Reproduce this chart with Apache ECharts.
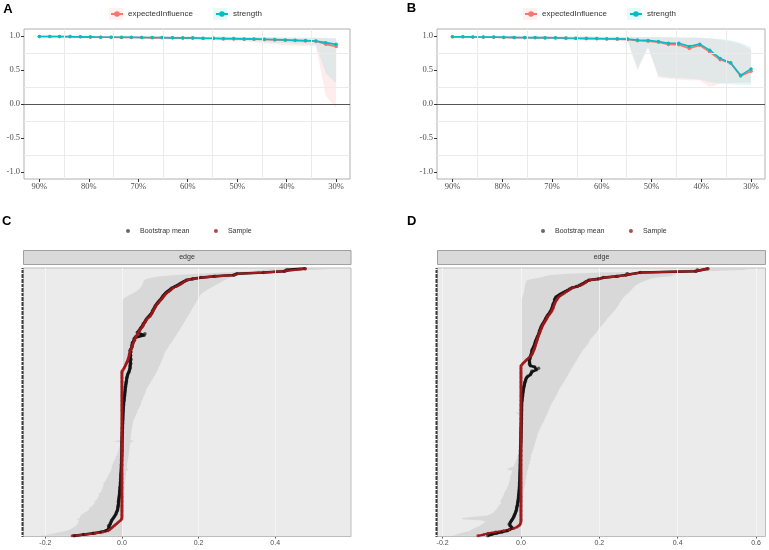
<!DOCTYPE html>
<html>
<head>
<meta charset="utf-8">
<script src="https://cdn.jsdelivr.net/npm/echarts@6/dist/echarts.min.js"></script>
<style>
  html, body { margin: 0; padding: 0; background: #fff; }
  #chart { width: 769px; height: 550px; }
</style>
</head>
<body>
<div id="chart"></div>
<script>
// ---------- A / B : centrality stability (case dropping) ----------
const casesKept = [90, 87.9, 85.9, 83.8, 81.7, 79.7, 77.6, 75.5, 73.4, 71.4, 69.3, 67.2, 65.2, 63.1, 61.0,
  59.0, 56.9, 54.8, 52.8, 50.7, 48.6, 46.6, 44.5, 42.4, 40.3, 38.3, 36.2, 34.1, 32.1, 30.0];
const pctLabels = [30, 40, 50, 60, 70, 80, 90];
const pctGrid = [35, 45, 55, 65, 75, 85];
const corLabels = [-1, -0.5, 0, 0.5, 1];
const corGrid = [-0.75, -0.25, 0.25, 0.75];

const aEI = [0.99, 0.99, 0.99, 0.985, 0.985, 0.98, 0.98, 0.98, 0.975, 0.975, 0.975, 0.97, 0.97, 0.97, 0.965,
  0.965, 0.96, 0.96, 0.955, 0.955, 0.95, 0.95, 0.945, 0.94, 0.935, 0.93, 0.925, 0.92, 0.875, 0.845];
const aEILow = [0.975, 0.975, 0.975, 0.97, 0.97, 0.965, 0.965, 0.965, 0.96, 0.96, 0.955, 0.955, 0.95, 0.95, 0.945,
  0.945, 0.94, 0.935, 0.93, 0.925, 0.915, 0.905, 0.89, 0.875, 0.86, 0.855, 0.85, 0.85, 0.12, -0.06];
const aEIHigh = [0.998, 0.998, 0.997, 0.997, 0.996, 0.996, 0.995, 0.995, 0.994, 0.994, 0.993, 0.993, 0.992, 0.991, 0.99,
  0.989, 0.988, 0.987, 0.986, 0.985, 0.983, 0.981, 0.979, 0.977, 0.975, 0.973, 0.971, 0.97, 0.965, 0.96];
const aStr = [0.99, 0.99, 0.99, 0.99, 0.985, 0.985, 0.98, 0.98, 0.98, 0.98, 0.975, 0.975, 0.975, 0.97, 0.97,
  0.97, 0.965, 0.965, 0.96, 0.96, 0.955, 0.955, 0.95, 0.945, 0.94, 0.935, 0.93, 0.925, 0.90, 0.875];
const aStrLow = [0.978, 0.978, 0.977, 0.975, 0.973, 0.971, 0.969, 0.967, 0.965, 0.963, 0.961, 0.959, 0.957, 0.955, 0.952,
  0.949, 0.946, 0.943, 0.94, 0.935, 0.928, 0.92, 0.91, 0.9, 0.89, 0.88, 0.875, 0.865, 0.45, 0.30];
const aStrHigh = [0.999, 0.999, 0.998, 0.998, 0.997, 0.997, 0.996, 0.996, 0.995, 0.995, 0.994, 0.994, 0.993, 0.992, 0.991,
  0.99, 0.989, 0.988, 0.987, 0.986, 0.984, 0.982, 0.98, 0.978, 0.976, 0.974, 0.972, 0.971, 0.968, 0.965];

const bEI = [0.985, 0.985, 0.982, 0.98, 0.978, 0.976, 0.974, 0.972, 0.97, 0.969, 0.967, 0.963, 0.961, 0.958, 0.956,
  0.953, 0.95, 0.945, 0.928, 0.922, 0.905, 0.872, 0.868, 0.815, 0.862, 0.76, 0.648, 0.598, 0.41, 0.48];
const bEILow = [0.975, 0.975, 0.972, 0.97, 0.967, 0.964, 0.961, 0.958, 0.955, 0.952, 0.949, 0.945, 0.942, 0.938, 0.935,
  0.93, 0.925, 0.92, 0.49, 0.82, 0.39, 0.37, 0.355, 0.35, 0.345, 0.25, 0.30, 0.31, 0.31, 0.31];
const bEIHigh = [0.996, 0.996, 0.995, 0.995, 0.994, 0.994, 0.993, 0.993, 0.992, 0.992, 0.991, 0.99, 0.99, 0.989, 0.988,
  0.987, 0.986, 0.985, 0.983, 0.982, 0.98, 0.978, 0.976, 0.973, 0.97, 0.96, 0.945, 0.92, 0.88, 0.80];
const bStr = [0.986, 0.986, 0.984, 0.983, 0.981, 0.979, 0.977, 0.976, 0.974, 0.973, 0.971, 0.967, 0.965, 0.963, 0.961,
  0.958, 0.956, 0.952, 0.938, 0.933, 0.915, 0.89, 0.89, 0.845, 0.878, 0.79, 0.668, 0.605, 0.42, 0.515];
const bStrLow = [0.978, 0.977, 0.975, 0.973, 0.971, 0.968, 0.966, 0.963, 0.96, 0.958, 0.955, 0.951, 0.948, 0.945, 0.942,
  0.938, 0.934, 0.93, 0.52, 0.84, 0.41, 0.39, 0.38, 0.37, 0.36, 0.32, 0.30, 0.29, 0.28, 0.28];
const bStrHigh = [0.997, 0.997, 0.996, 0.996, 0.995, 0.995, 0.994, 0.994, 0.993, 0.993, 0.992, 0.991, 0.991, 0.99, 0.989,
  0.988, 0.987, 0.986, 0.984, 0.983, 0.981, 0.979, 0.977, 0.975, 0.972, 0.965, 0.955, 0.935, 0.90, 0.835];

// ---------- C / D : edge weight accuracy (edges sorted, bottom -> top) ----------
const cSample = [
  -0.130, -0.095, -0.070, -0.050, -0.036, -0.032, -0.028, -0.024, -0.020, -0.016,
  -0.012, -0.008, -0.004, -0.001, 0, 0, 0, 0, 0, 0,
  0, 0, 0, 0, 0, 0, 0, 0, 0, 0,
  0, 0, 0, 0, 0, 0, 0, 0, 0, 0,
  0, 0, 0, 0, 0, 0, 0, 0, 0, 0,
  0, 0, 0, 0, 0, 0, 0, 0, 0, 0,
  0, 0, 0, 0, 0, 0, 0, 0, 0, 0,
  0, 0, 0, 0, 0, 0, 0, 0, 0, 0,
  0, 0, 0, 0, 0, 0, 0, 0, 0, 0,
  0, 0, 0, 0, 0, 0, 0, 0, 0, 0,
  0, 0, 0, 0, 0, 0, 0, 0, 0, 0,
  0, 0, 0, 0, 0, 0, 0, 0, 0, 0,
  0, 0, 0, 0, 0, 0, 0, 0, 0, 0,
  0.003, 0.005, 0.007, 0.009, 0.010, 0.012, 0.013, 0.015, 0.016, 0.017,
  0.018, 0.019, 0.020, 0.021, 0.021, 0.022, 0.023, 0.025, 0.026, 0.027,
  0.028, 0.030, 0.031, 0.033, 0.034, 0.036, 0.037, 0.039, 0.041, 0.043,
  0.045, 0.047, 0.049, 0.052, 0.054, 0.056, 0.058, 0.060, 0.062, 0.064,
  0.066, 0.070, 0.074, 0.076, 0.078, 0.080, 0.082, 0.083, 0.085, 0.087,
  0.089, 0.091, 0.094, 0.097, 0.100, 0.103, 0.106, 0.108, 0.111, 0.113,
  0.117, 0.122, 0.126, 0.130, 0.134, 0.142, 0.148, 0.154, 0.159, 0.164,
  0.170, 0.187, 0.209, 0.244, 0.294, 0.302, 0.372, 0.426, 0.431, 0.479
];
const cMean = [
  -0.125, -0.100, -0.075, -0.055, -0.042, -0.036, -0.032, -0.034, -0.035, -0.031,
  -0.030, -0.028, -0.027, -0.025, -0.022, -0.020, -0.018, -0.016, -0.015, -0.013,
  -0.012, -0.011, -0.011, -0.010, -0.010, -0.009, -0.009, -0.009, -0.008, -0.008,
  -0.007, -0.007, -0.007, -0.006, -0.006, -0.006, -0.005, -0.005, -0.005, -0.0045,
  -0.004, -0.004, -0.004, -0.0035, -0.0035, -0.003, -0.003, -0.003, -0.0025, -0.0025,
  -0.002, -0.002, -0.002, -0.0018, -0.0016, -0.0015, -0.0014, -0.0012, -0.001, -0.001,
  -0.0008, -0.0007, -0.0006, -0.0005, -0.0004, -0.0003, -0.0002, -0.0001, 0, 0,
  0, 0, 0, 0, 0.0002, 0.0003, 0.0004, 0.0005, 0.0006, 0.0007,
  0.0008, 0.0009, 0.001, 0.0011, 0.0012, 0.0013, 0.0014, 0.0016, 0.0018, 0.002,
  0.0021, 0.0022, 0.0023, 0.0024, 0.0025, 0.0026, 0.0028, 0.003, 0.0032, 0.0034,
  0.0035, 0.0038, 0.004, 0.0043, 0.0046, 0.005, 0.0054, 0.0058, 0.006, 0.0065,
  0.007, 0.0073, 0.0076, 0.008, 0.0083, 0.0086, 0.009, 0.0095, 0.010, 0.0105,
  0.011, 0.0115, 0.012, 0.0125, 0.013, 0.014, 0.015, 0.016, 0.018, 0.019,
  0.020, 0.021, 0.022, 0.021, 0.022, 0.023, 0.020, 0.022, 0.024, 0.022,
  0.021, 0.023, 0.020, 0.022, 0.024, 0.021, 0.023, 0.025, 0.027, 0.026,
  0.028, 0.027, 0.030, 0.032, 0.031, 0.034, 0.036, 0.058, 0.060, 0.040,
  0.043, 0.046, 0.048, 0.050, 0.053, 0.055, 0.056, 0.059, 0.061, 0.063,
  0.065, 0.068, 0.072, 0.074, 0.077, 0.079, 0.080, 0.082, 0.084, 0.086,
  0.087, 0.090, 0.092, 0.095, 0.098, 0.101, 0.104, 0.106, 0.108, 0.111,
  0.114, 0.118, 0.123, 0.127, 0.131, 0.138, 0.145, 0.150, 0.156, 0.162,
  0.168, 0.185, 0.207, 0.242, 0.292, 0.300, 0.370, 0.424, 0.430, 0.478
];
const cLow = [
  -0.215, -0.190, -0.175, -0.160, -0.145, -0.135, -0.130, -0.125, -0.120, -0.117,
  -0.115, -0.114, -0.112, -0.118, -0.110, -0.109, -0.108, -0.104, -0.098, -0.092,
  -0.088, -0.085, -0.086, -0.079, -0.076, -0.073, -0.071, -0.073, -0.066, -0.064,
  -0.062, -0.061, -0.059, -0.062, -0.056, -0.054, -0.052, -0.051, -0.050, -0.049,
  -0.047, -0.050, -0.045, -0.043, -0.041, -0.039, -0.037, -0.035, -0.036, -0.032,
  -0.030, -0.029, -0.028, -0.027, -0.026, -0.028, -0.024, -0.023, -0.022, -0.020,
  -0.018, -0.016, -0.017, -0.013, -0.012, -0.011, -0.010, -0.009, -0.008, -0.007,
  -0.006, -0.005, -0.004, -0.003, -0.022, -0.002, -0.001, 0, 0, 0,
  0, 0, 0, 0, 0, 0, 0, 0, 0, 0,
  0, 0, 0, 0, 0, 0, 0, 0, 0, 0,
  0, 0, 0, 0, 0, 0, 0, 0, 0, 0,
  0, 0, 0, 0, 0, 0, 0, 0, 0, 0,
  0, 0, 0, 0, 0, 0, 0, 0, 0, 0,
  0, 0, 0, 0, 0, 0, 0, 0, 0, 0,
  0, 0, 0, 0, 0, 0, 0, 0, 0, 0,
  0, 0, 0, 0, 0, 0, 0, 0, 0, 0,
  0, 0, 0, 0, 0, 0, 0, 0, 0, 0,
  0, 0, 0, 0, 0, 0, 0, 0, 0, 0,
  0, 0, 0, 0, 0, 0.003, 0.006, 0.012, 0.018, 0.024,
  0.030, 0.035, 0.040, 0.045, 0.048, 0.050, 0.052, 0.054, 0.055, 0.056,
  0.058, 0.065, 0.080, 0.100, 0.140, 0.200, 0.260, 0.330, 0.360, 0.400
];
const cHigh = [
  0.000, 0.000, 0.000, 0.001, 0.001, 0.001, 0.002, 0.002, 0.002, 0.002,
  0.002, 0.003, 0.003, 0.003, 0.003, 0.004, 0.003, 0.003, 0.004, 0.004,
  0.004, 0.004, 0.005, 0.004, 0.004, 0.005, 0.005, 0.006, 0.005, 0.005,
  0.005, 0.006, 0.006, 0.007, 0.006, 0.006, 0.007, 0.007, 0.008, 0.007,
  0.007, 0.008, 0.009, 0.008, 0.009, 0.010, 0.009, 0.010, 0.011, 0.010,
  0.011, 0.012, 0.018, 0.012, 0.013, 0.013, 0.014, 0.013, 0.015, 0.015,
  0.016, 0.016, 0.017, 0.018, 0.017, 0.018, 0.019, 0.019, 0.020, 0.021,
  0.020, 0.021, 0.022, 0.022, 0.032, 0.022, 0.023, 0.023, 0.024, 0.023,
  0.024, 0.025, 0.025, 0.026, 0.025, 0.027, 0.027, 0.028, 0.030, 0.028,
  0.030, 0.031, 0.033, 0.034, 0.036, 0.037, 0.039, 0.041, 0.040, 0.043,
  0.045, 0.046, 0.048, 0.049, 0.051, 0.050, 0.053, 0.055, 0.054, 0.057,
  0.058, 0.060, 0.061, 0.063, 0.062, 0.065, 0.066, 0.069, 0.070, 0.073,
  0.075, 0.076, 0.079, 0.081, 0.082, 0.085, 0.087, 0.088, 0.090, 0.092,
  0.093, 0.096, 0.095, 0.098, 0.100, 0.101, 0.103, 0.104, 0.106, 0.107,
  0.108, 0.110, 0.109, 0.112, 0.113, 0.115, 0.118, 0.119, 0.122, 0.123,
  0.126, 0.129, 0.131, 0.134, 0.135, 0.138, 0.139, 0.142, 0.144, 0.146,
  0.148, 0.151, 0.152, 0.155, 0.156, 0.158, 0.161, 0.162, 0.165, 0.166,
  0.168, 0.171, 0.172, 0.175, 0.176, 0.178, 0.181, 0.182, 0.184, 0.186,
  0.188, 0.190, 0.192, 0.194, 0.196, 0.198, 0.200, 0.202, 0.204, 0.206,
  0.210, 0.215, 0.220, 0.226, 0.232, 0.238, 0.244, 0.250, 0.256, 0.262,
  0.268, 0.275, 0.285, 0.295, 0.305, 0.315, 0.325, 0.335, 0.500, 0.560
];

const dSample = [
  -0.110, -0.095, -0.084, -0.065, -0.045, -0.030, -0.018, -0.010, -0.005, -0.002,
  -0.001, 0, 0, 0, 0, 0, 0, 0, 0, 0,
  0, 0, 0, 0, 0, 0, 0, 0, 0, 0,
  0, 0, 0, 0, 0, 0, 0, 0, 0, 0,
  0, 0, 0, 0, 0, 0, 0, 0, 0, 0,
  0, 0, 0, 0, 0, 0, 0, 0, 0, 0,
  0, 0, 0, 0, 0, 0, 0, 0, 0, 0,
  0, 0, 0, 0, 0, 0, 0, 0, 0, 0,
  0, 0, 0, 0, 0, 0, 0, 0, 0, 0,
  0, 0, 0, 0, 0, 0, 0, 0, 0, 0,
  0, 0, 0, 0, 0, 0, 0, 0, 0, 0,
  0, 0, 0, 0, 0, 0, 0, 0, 0, 0,
  0, 0, 0, 0, 0, 0, 0, 0, 0, 0,
  0, 0, 0, 0, 0.003, 0.005, 0.009, 0.012, 0.015, 0.019,
  0.023, 0.026, 0.028, 0.030, 0.031, 0.032, 0.034, 0.035, 0.036, 0.037,
  0.038, 0.039, 0.040, 0.041, 0.042, 0.043, 0.044, 0.045, 0.047, 0.048,
  0.049, 0.050, 0.052, 0.053, 0.054, 0.056, 0.058, 0.060, 0.062, 0.064,
  0.066, 0.067, 0.069, 0.072, 0.074, 0.077, 0.079, 0.080, 0.082, 0.083,
  0.084, 0.085, 0.086, 0.088, 0.090, 0.092, 0.094, 0.097, 0.101, 0.106,
  0.111, 0.116, 0.121, 0.126, 0.132, 0.145, 0.152, 0.158, 0.164, 0.167,
  0.175, 0.200, 0.213, 0.247, 0.269, 0.272, 0.307, 0.447, 0.451, 0.477
];
const dMean = [
  -0.085, -0.075, -0.062, -0.048, -0.035, -0.028, -0.022, -0.024, -0.028, -0.030,
  -0.028, -0.026, -0.024, -0.022, -0.020, -0.018, -0.017, -0.016, -0.014, -0.013,
  -0.012, -0.011, -0.011, -0.010, -0.009, -0.009, -0.008, -0.008, -0.007, -0.007,
  -0.006, -0.006, -0.006, -0.005, -0.005, -0.005, -0.0045, -0.004, -0.004, -0.004,
  -0.0037, -0.0035, -0.0034, -0.0032, -0.003, -0.003, -0.0028, -0.0027, -0.0026, -0.0025,
  -0.0024, -0.0023, -0.0022, -0.0021, -0.002, -0.002, -0.0019, -0.0018, -0.0018, -0.0017,
  -0.0017, -0.0016, -0.0016, -0.0015, -0.0014, -0.0013, -0.0012, -0.0011, -0.001, -0.0009,
  -0.0008, -0.0007, -0.0006, -0.0005, -0.0004, -0.0003, -0.0002, -0.0001, 0, 0,
  0, 0.0001, 0.0002, 0.0003, 0.0004, 0.0005, 0.0006, 0.0007, 0.0008, 0.0009,
  0.001, 0.001, 0.0011, 0.0012, 0.0013, 0.0013, 0.0014, 0.0015, 0.0015, 0.0016,
  0.0016, 0.0017, 0.0017, 0.0018, 0.002, 0.0023, 0.0026, 0.003, 0.0034, 0.0038,
  0.0042, 0.0046, 0.005, 0.0055, 0.006, 0.0065, 0.007, 0.0078, 0.0085, 0.0093,
  0.010, 0.011, 0.012, 0.013, 0.015, 0.018, 0.024, 0.026, 0.027, 0.028,
  0.040, 0.045, 0.035, 0.024, 0.022, 0.022, 0.022, 0.021, 0.022, 0.023,
  0.024, 0.025, 0.026, 0.027, 0.028, 0.028, 0.029, 0.031, 0.033, 0.034,
  0.035, 0.036, 0.037, 0.038, 0.040, 0.041, 0.042, 0.044, 0.045, 0.047,
  0.047, 0.048, 0.050, 0.051, 0.052, 0.054, 0.056, 0.058, 0.060, 0.062,
  0.063, 0.065, 0.067, 0.069, 0.072, 0.074, 0.076, 0.078, 0.079, 0.080,
  0.081, 0.082, 0.083, 0.085, 0.087, 0.086, 0.088, 0.090, 0.095, 0.100,
  0.106, 0.112, 0.118, 0.124, 0.130, 0.142, 0.150, 0.156, 0.162, 0.166,
  0.173, 0.198, 0.211, 0.245, 0.268, 0.271, 0.305, 0.446, 0.450, 0.477
];
const dLow = [
  -0.175, -0.165, -0.155, -0.142, -0.130, -0.125, -0.120, -0.112, -0.105, -0.100,
  -0.095, -0.090, -0.100, -0.148, -0.150, -0.120, -0.085, -0.078, -0.071, -0.068,
  -0.065, -0.062, -0.060, -0.058, -0.056, -0.052, -0.050, -0.054, -0.051, -0.049,
  -0.047, -0.046, -0.044, -0.043, -0.042, -0.040, -0.038, -0.036, -0.035, -0.033,
  -0.032, -0.031, -0.030, -0.029, -0.028, -0.027, -0.029, -0.026, -0.025, -0.024,
  -0.023, -0.022, -0.036, -0.030, -0.019, -0.018, -0.016, -0.015, -0.014, -0.012,
  -0.011, -0.010, -0.009, -0.008, -0.007, -0.006, -0.005, -0.004, -0.004, -0.003,
  -0.003, -0.002, -0.002, -0.001, -0.001, 0, 0, 0, 0, 0,
  0, 0, 0, 0, 0, 0, 0, 0, 0, 0,
  0, 0, 0, 0, 0, -0.006, -0.014, 0, 0, 0,
  0, 0, 0, 0, 0, 0, 0, 0, 0, 0,
  0, 0, 0, 0, 0, 0, 0, 0, 0, 0,
  0, 0, 0, 0, 0, 0, 0, 0, 0, 0,
  0, 0, 0, 0, 0, 0, 0, 0, 0, 0,
  0, 0, 0, 0, 0, 0, 0, 0, 0, 0,
  0, 0, 0, 0, 0, 0, 0, 0, 0, 0,
  0, 0, 0, 0, 0, 0, 0, 0, 0, 0,
  0, 0, 0, 0, 0, 0, 0, 0, 0, 0,
  0, 0, 0, 0, 0, 0, 0.003, 0.004, 0.005, 0.006,
  0.007, 0.008, 0.008, 0.009, 0.009, 0.010, 0.010, 0.011, 0.012, 0.013,
  0.015, 0.030, 0.050, 0.060, 0.075, 0.120, 0.200, 0.400, 0.420, 0.440
];
const dHigh = [
  0, 0, 0, 0, 0, 0, 0, 0, 0, 0,
  0, 0, 0, 0, 0, 0.001, 0.001, 0.001, 0.002, 0.002,
  0.002, 0.002, 0.003, 0.003, 0.003, 0.004, 0.004, 0.004, 0.005, 0.005,
  0.005, 0.006, 0.006, 0.006, 0.007, 0.007, 0.007, 0.008, 0.009, 0.010,
  0.010, 0.011, 0.012, 0.011, 0.012, 0.014, 0.013, 0.014, 0.015, 0.015,
  0.016, 0.016, 0.018, 0.018, 0.020, 0.019, 0.021, 0.023, 0.022, 0.024,
  0.025, 0.024, 0.027, 0.024, 0.028, 0.028, 0.030, 0.030, 0.032, 0.032,
  0.034, 0.034, 0.036, 0.036, 0.038, 0.038, 0.040, 0.040, 0.042, 0.041,
  0.043, 0.045, 0.045, 0.048, 0.048, 0.051, 0.051, 0.054, 0.055, 0.058,
  0.058, 0.061, 0.061, 0.064, 0.064, 0.067, 0.067, 0.070, 0.070, 0.073,
  0.073, 0.075, 0.075, 0.078, 0.079, 0.082, 0.083, 0.086, 0.086, 0.089,
  0.090, 0.092, 0.093, 0.096, 0.096, 0.099, 0.100, 0.103, 0.104, 0.107,
  0.108, 0.111, 0.112, 0.115, 0.116, 0.119, 0.120, 0.122, 0.123, 0.126,
  0.127, 0.130, 0.131, 0.134, 0.135, 0.138, 0.139, 0.142, 0.143, 0.146,
  0.147, 0.150, 0.151, 0.154, 0.155, 0.158, 0.159, 0.163, 0.165, 0.169,
  0.170, 0.173, 0.174, 0.176, 0.177, 0.181, 0.183, 0.187, 0.189, 0.193,
  0.194, 0.197, 0.198, 0.202, 0.204, 0.208, 0.210, 0.214, 0.216, 0.219,
  0.220, 0.224, 0.226, 0.230, 0.232, 0.236, 0.238, 0.242, 0.243, 0.246,
  0.247, 0.250, 0.251, 0.254, 0.255, 0.259, 0.260, 0.264, 0.266, 0.271,
  0.274, 0.278, 0.280, 0.284, 0.286, 0.290, 0.293, 0.299, 0.305, 0.313,
  0.320, 0.330, 0.345, 0.383, 0.390, 0.396, 0.400, 0.480, 0.566, 0.586
];
const cWeightLabels = [-0.2, 0, 0.2, 0.4];
const dWeightLabels = [-0.2, 0, 0.2, 0.4, 0.6];

const EI_COLOR = '#F8766D';
const STR_COLOR = '#00BFC4';
const SAMPLE_COLOR = '#A3191C';
const edgeIds = cSample.map((_, i) => 'edge' + (i + 1)); // blank tick labels, one per edge

const chart = echarts.init(document.getElementById('chart'));

// grid lines / reference lines drawn as mark lines of an empty series
function refLines(idx, xs, ys, color, width, z) {
  return {
    type: 'line', xAxisIndex: idx, yAxisIndex: idx, data: [], silent: true, z: z,
    markLine: {
      silent: true, symbol: 'none', animation: false, label: { show: false },
      lineStyle: { color: color, width: width, type: 'solid' },
      emphasis: { disabled: true },
      data: xs.map(v => ({ xAxis: v })).concat(ys.map(v => ({ yAxis: v })))
    }
  };
}

// ribbon polygon between low and high (flipped = horizontal bands on a category y axis)
function ribbon(idx, pos, low, high, fill, flipped) {
  return {
    type: 'custom', xAxisIndex: idx, yAxisIndex: idx, silent: true, z: 2,
    data: [[0, 0]],
    renderItem: (params, api) => {
      const pts = [];
      for (let i = 0; i < pos.length; i++) {
        pts.push(api.coord(flipped ? [low[i], pos[i]] : [pos[i], low[i]]));
      }
      for (let i = pos.length - 1; i >= 0; i--) {
        pts.push(api.coord(flipped ? [high[i], pos[i]] : [pos[i], high[i]]));
      }
      return { type: 'polygon', shape: { points: pts }, style: { fill: fill } };
    }
  };
}

function stabilityLine(idx, name, vals, color) {
  return {
    type: 'line', name: name, xAxisIndex: idx, yAxisIndex: idx, z: 4,
    data: casesKept.map((p, i) => [p, vals[i]]),
    symbol: 'circle', symbolSize: 3.5, showAllSymbol: true,
    lineStyle: { color: color, width: 1.6 }, itemStyle: { color: color }
  };
}

function stabilitySeries(idx, ei, eiLow, eiHigh, str, strLow, strHigh) {
  return [
    refLines(idx, pctGrid, corGrid, '#EBEBEB', 1, 1),
    ribbon(idx, casesKept, eiLow, eiHigh, 'rgba(248,118,109,0.13)', false),
    ribbon(idx, casesKept, strLow, strHigh, 'rgba(0,191,196,0.11)', false),
    refLines(idx, [], [0], '#555555', 1, 3),
    stabilityLine(idx, 'expectedInfluence', ei, EI_COLOR),
    stabilityLine(idx, 'strength', str, STR_COLOR)
  ];
}

function edgeSeries(idx, xLabels, sample, mean, low, high) {
  const rows = sample.map((_, i) => i);
  return [
    refLines(idx, xLabels, [], '#F6F6F6', 0.8, 1),
    ribbon(idx, rows, low, high, '#D8D8D8', true),
    {
      type: 'line', xAxisIndex: idx, yAxisIndex: idx, z: 3, silent: true,
      data: mean.map((v, i) => [v, i]), showSymbol: false,
      lineStyle: { color: '#111111', width: 2.6 }
    },
    {
      type: 'line', xAxisIndex: idx, yAxisIndex: idx, z: 4, silent: true,
      data: sample.map((v, i) => [v, i]), showSymbol: false,
      lineStyle: { color: SAMPLE_COLOR, width: 2.2 }
    },
    {
      type: 'scatter', name: 'Bootstrap mean', xAxisIndex: idx, yAxisIndex: idx, z: 5,
      data: mean.map((v, i) => [v, i]), symbolSize: 3.5,
      itemStyle: { color: 'rgba(20,20,20,0.8)' }
    },
    {
      type: 'scatter', name: 'Sample', xAxisIndex: idx, yAxisIndex: idx, z: 6,
      data: sample.map((v, i) => [v, i]), symbolSize: 3,
      itemStyle: { color: SAMPLE_COLOR }
    }
  ];
}

const serifLabel = { fontFamily: 'Liberation Serif', fontSize: 8.5, color: '#4D4D4D' };
const sansLabel = { fontFamily: 'Liberation Sans', fontSize: 7, color: '#4D4D4D' };

function pctAxis(gridIndex) {
  return {
    type: 'value', gridIndex: gridIndex, min: 27.2, max: 93.1, inverse: true,
    axisLine: { show: false, onZero: false }, splitLine: { show: false },
    axisTick: { show: true, customValues: pctLabels, length: 3, lineStyle: { color: '#333' } },
    axisLabel: Object.assign({ customValues: pctLabels, margin: 3, formatter: v => v + '%' }, serifLabel)
  };
}
function corAxis(gridIndex) {
  return {
    type: 'value', gridIndex: gridIndex, min: -1.1, max: 1.1,
    axisLine: { show: false, onZero: false }, splitLine: { show: false },
    axisTick: { show: true, customValues: corLabels, length: 3, lineStyle: { color: '#333' } },
    axisLabel: Object.assign({ customValues: corLabels, margin: 4, formatter: v => v.toFixed(1) }, serifLabel)
  };
}
function weightAxis(gridIndex, min, max, labels) {
  return {
    type: 'value', gridIndex: gridIndex, min: min, max: max,
    axisLine: { show: false, onZero: false }, splitLine: { show: false },
    axisTick: { show: true, customValues: labels, length: 2, lineStyle: { color: '#555' } },
    axisLabel: Object.assign({ customValues: labels, margin: 3, formatter: v => v.toFixed(1) }, sansLabel)
  };
}
function edgeAxis(gridIndex) {
  return {
    type: 'category', gridIndex: gridIndex, data: edgeIds, boundaryGap: true,
    axisLine: { show: false, onZero: false }, splitLine: { show: false },
    axisTick: { show: true, interval: 0, alignWithLabel: true, length: 2, lineStyle: { color: '#3A3A3A', width: 1 } },
    axisLabel: { show: false }
  };
}

const legendText = { fontFamily: 'Liberation Sans', fontSize: 8, color: '#333' };
const pointLegendText = { fontFamily: 'Liberation Sans', fontSize: 7, color: '#333' };

const option = {
  animation: false,
  backgroundColor: '#ffffff',
  grid: [
    { left: 24, top: 29, width: 326, height: 150, show: true, borderColor: '#B0B0B0', borderWidth: 1, backgroundColor: '#fff' },
    { left: 437, top: 29, width: 328, height: 150, show: true, borderColor: '#B0B0B0', borderWidth: 1, backgroundColor: '#fff' },
    { left: 23.5, top: 268, width: 327.5, height: 268.5, show: true, borderColor: '#BDBDBD', borderWidth: 1, backgroundColor: '#EBEBEB' },
    { left: 437.5, top: 268, width: 328, height: 268.5, show: true, borderColor: '#BDBDBD', borderWidth: 1, backgroundColor: '#EBEBEB' }
  ],
  xAxis: [pctAxis(0), pctAxis(1), weightAxis(2, -0.257, 0.598, cWeightLabels), weightAxis(3, -0.213, 0.624, dWeightLabels)],
  yAxis: [corAxis(0), corAxis(1), edgeAxis(2), edgeAxis(3)],
  legend: [
    { data: ['expectedInfluence', 'strength'], left: 110, top: 10, padding: 0, itemWidth: 12, itemHeight: 7, itemGap: 22, textStyle: legendText, selectedMode: false },
    { data: ['expectedInfluence', 'strength'], left: 524, top: 10, padding: 0, itemWidth: 12, itemHeight: 7, itemGap: 22, textStyle: legendText, selectedMode: false },
    { data: ['Bootstrap mean', 'Sample'], left: 126, top: 227.5, padding: 0, icon: 'circle', itemWidth: 14, itemHeight: 4, itemGap: 24.5, textStyle: pointLegendText, selectedMode: false },
    { data: ['Bootstrap mean', 'Sample'], left: 541, top: 227.5, padding: 0, icon: 'circle', itemWidth: 14, itemHeight: 4, itemGap: 24.5, textStyle: pointLegendText, selectedMode: false }
  ],
  graphic: [
    // legend key ribbons
    { type: 'rect', shape: { x: 109, y: 8, width: 14, height: 12 }, style: { fill: 'rgba(248,118,109,0.10)' }, z: 0 },
    { type: 'rect', shape: { x: 213, y: 8, width: 14, height: 12 }, style: { fill: 'rgba(0,191,196,0.09)' }, z: 0 },
    { type: 'rect', shape: { x: 523, y: 8, width: 14, height: 12 }, style: { fill: 'rgba(248,118,109,0.10)' }, z: 0 },
    { type: 'rect', shape: { x: 627, y: 8, width: 14, height: 12 }, style: { fill: 'rgba(0,191,196,0.09)' }, z: 0 },
    // facet strips
    { type: 'rect', shape: { x: 23.5, y: 250.5, width: 327.5, height: 14 }, style: { fill: '#D9D9D9', stroke: '#A0A0A0', lineWidth: 1 } },
    { type: 'text', style: { text: 'edge', x: 187, y: 257.5, align: 'center', verticalAlign: 'middle', font: '7px "Liberation Sans"', fill: '#333' } },
    { type: 'rect', shape: { x: 437.5, y: 250.5, width: 328, height: 14 }, style: { fill: '#D9D9D9', stroke: '#A0A0A0', lineWidth: 1 } },
    { type: 'text', style: { text: 'edge', x: 601.5, y: 257.5, align: 'center', verticalAlign: 'middle', font: '7px "Liberation Sans"', fill: '#333' } },
    // panel letters
    { type: 'text', style: { text: 'A', x: 8, y: 9, align: 'center', verticalAlign: 'middle', font: 'bold 13px "Liberation Sans"', fill: '#000' } },
    { type: 'text', style: { text: 'B', x: 411.5, y: 8.5, align: 'center', verticalAlign: 'middle', font: 'bold 13px "Liberation Sans"', fill: '#000' } },
    { type: 'text', style: { text: 'C', x: 6.7, y: 221.5, align: 'center', verticalAlign: 'middle', font: 'bold 13px "Liberation Sans"', fill: '#000' } },
    { type: 'text', style: { text: 'D', x: 411.7, y: 221.5, align: 'center', verticalAlign: 'middle', font: 'bold 13px "Liberation Sans"', fill: '#000' } }
  ],
  series: [].concat(
    stabilitySeries(0, aEI, aEILow, aEIHigh, aStr, aStrLow, aStrHigh),
    stabilitySeries(1, bEI, bEILow, bEIHigh, bStr, bStrLow, bStrHigh),
    edgeSeries(2, cWeightLabels, cSample, cMean, cLow, cHigh),
    edgeSeries(3, dWeightLabels, dSample, dMean, dLow, dHigh)
  )
};

chart.setOption(option);
</script>
</body>
</html>
